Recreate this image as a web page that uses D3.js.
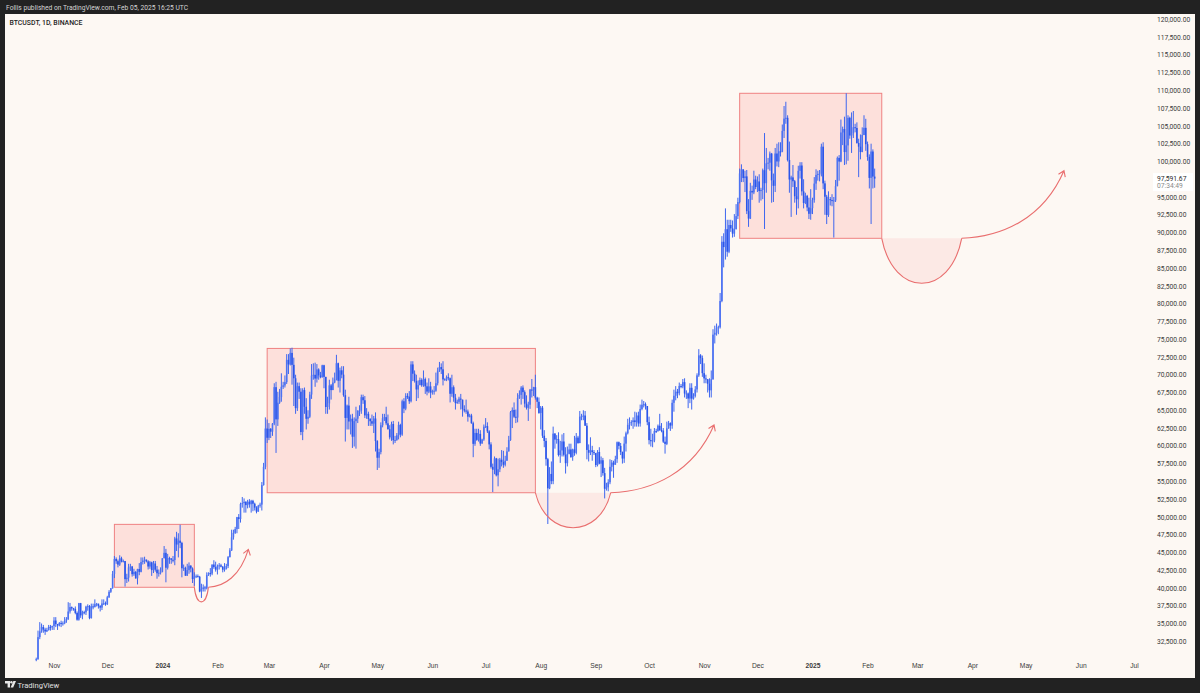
<!DOCTYPE html>
<html>
<head>
<meta charset="utf-8">
<script src="https://cdn.jsdelivr.net/npm/d3@7"></script>
<style>
  html, body { margin: 0; padding: 0; background: #222; }
  svg { display: block; font-family: Roboto, "Liberation Sans", sans-serif; }
</style>
</head>
<body>
<script>
// ---- data (BTCUSDT daily, values in thousands of USD) ----
var startDay = "2023-10-22";
var firstOpen = 29.91;

var closes = [
  // Oct 2023 (22-31)
  29.99,33.09,33.90,34.50,34.15,33.89,34.09,34.53,34.48,34.65,
  // Nov 2023
  35.42,34.94,34.72,35.08,35.04,35.04,35.42,35.62,36.69,37.31,37.13,37.06,36.49,35.54,37.87,36.15,36.59,36.58,37.37,37.45,35.76,37.41,37.29,37.72,37.79,37.45,37.24,37.82,37.85,37.71,
  // Dec 2023
  38.69,39.46,39.97,41.98,44.08,43.77,43.29,44.17,43.72,43.79,41.24,41.45,42.89,43.02,41.94,42.26,41.36,42.66,42.27,43.65,43.86,43.99,43.74,43.02,43.61,42.52,43.44,42.58,42.07,42.14,42.28,
  // Jan 2024
  44.18,44.94,42.85,44.18,44.16,43.97,43.93,46.97,46.12,46.66,46.34,42.78,42.84,41.73,42.51,43.14,42.74,41.26,41.62,41.66,41.58,39.51,39.85,40.08,39.94,41.82,42.12,42.03,43.30,42.94,42.58,
  // Feb 2024
  43.08,43.19,42.99,42.58,42.66,43.08,44.34,45.29,47.13,47.75,48.29,49.96,49.70,51.81,51.94,52.12,51.66,52.14,51.78,52.26,51.85,51.30,50.74,51.57,51.73,54.48,57.04,62.43,61.13,
  // Mar 2024
  62.39,61.99,63.12,68.25,63.72,66.07,66.85,68.30,68.50,68.96,72.09,71.45,73.07,71.39,69.50,65.30,68.39,67.61,61.94,67.84,65.50,63.80,64.09,67.21,69.88,69.99,69.46,70.74,69.90,69.64,71.33,
  // Apr 2024
  69.70,65.46,65.96,68.50,67.84,68.90,69.36,71.62,69.15,70.62,70.01,67.12,63.92,65.66,63.42,63.81,61.28,63.47,63.82,64.94,64.94,66.84,66.41,64.28,64.50,63.77,63.46,63.12,63.84,60.67,
  // May 2024
  58.32,59.12,62.89,63.89,64.03,63.16,62.33,61.19,63.07,60.79,60.82,61.48,62.94,61.58,66.27,65.23,67.02,66.92,66.27,71.45,70.14,69.12,67.93,68.53,69.26,68.51,69.39,68.37,67.63,68.36,67.49,
  // Jun 2024
  67.71,67.75,68.80,70.57,71.08,70.76,69.34,69.31,69.65,69.51,67.32,68.24,66.76,66.01,66.19,66.64,66.49,65.17,64.96,64.83,64.10,64.26,63.18,60.28,61.81,60.84,61.68,60.32,60.89,62.68,
  // Jul 2024
  62.77,62.03,60.20,57.04,56.64,58.23,55.85,56.70,58.05,57.72,57.34,57.90,59.21,60.80,64.72,65.04,64.09,63.97,66.71,67.16,68.19,67.55,65.93,65.35,65.78,67.91,67.90,68.25,66.78,66.19,64.62,
  // Aug 2024
  65.36,61.42,60.68,58.12,54.02,56.04,55.03,61.71,60.88,60.95,58.71,59.35,60.61,58.74,57.56,58.87,59.49,58.43,59.49,59.01,61.16,60.38,64.10,64.18,64.26,62.83,59.42,59.03,59.37,59.12,58.97,
  // Sep 2024
  57.30,59.13,57.49,57.97,56.16,53.96,54.16,54.87,57.05,57.64,57.34,58.13,60.50,59.99,59.13,58.21,60.31,61.76,62.95,63.20,63.35,63.58,63.34,64.26,63.14,65.18,65.78,65.86,65.60,63.33,
  // Oct 2024
  60.80,60.65,60.75,62.07,62.06,62.82,62.22,62.13,60.58,60.27,62.45,63.19,62.85,66.05,67.04,67.61,67.40,68.42,68.36,68.96,67.36,67.37,66.65,68.16,66.64,67.01,67.93,69.91,72.72,72.34,70.22,
  // Nov 2024
  69.48,69.36,68.73,67.81,69.36,75.64,75.90,76.55,76.68,80.37,88.70,87.96,90.47,87.30,91.06,90.58,89.85,90.46,92.31,94.29,98.32,98.89,97.67,97.90,93.01,91.97,95.86,95.64,97.46,96.41,
  // Dec 2024
  97.19,95.84,96.00,98.77,96.95,99.74,99.83,101.11,97.34,96.58,101.12,100.00,101.42,101.37,104.30,106.03,106.14,100.20,97.46,97.76,97.22,95.10,94.69,98.68,99.43,95.79,94.16,95.16,93.53,92.64,93.43,
  // Jan 2025
  94.59,96.89,98.11,98.24,98.31,102.08,96.92,95.04,92.48,94.70,94.57,94.49,94.52,96.53,100.50,99.99,104.08,104.56,101.33,102.26,106.14,103.65,103.96,104.82,104.71,102.60,102.08,101.33,103.73,104.73,102.43,
  // Feb 2025 (1-5)
  100.64,97.69,101.40,97.87,97.59
];

var highs = [
  30.2,34.0,35.2,35.0,34.8,34.4,34.4,34.8,34.8,34.7,
  35.9,35.9,34.9,35.2,35.4,35.3,35.9,35.9,38.0,37.9,37.4,37.2,37.4,36.7,37.9,37.9,36.8,36.8,37.5,37.7,37.6,37.8,37.8,38.4,37.9,37.8,37.6,38.4,38.4,38.1,
  38.9,39.7,40.0,42.4,44.5,44.3,44.0,44.6,44.4,44.0,43.8,42.0,43.4,43.4,43.1,42.7,42.4,42.7,43.5,44.3,44.3,44.4,44.0,43.9,43.8,43.7,43.8,43.8,43.1,42.6,42.9,
  44.2,45.9,45.5,44.8,44.4,44.2,44.5,47.2,47.9,47.7,48.9,46.5,43.3,43.0,43.4,43.6,43.2,42.9,42.2,41.9,41.9,41.7,40.6,40.5,40.3,42.2,42.2,42.8,43.3,43.9,43.7,
  43.3,43.5,43.4,43.1,43.5,43.4,44.5,45.6,48.2,48.2,48.6,50.0,50.4,52.0,52.8,52.6,52.2,52.4,52.5,52.4,52.4,52.0,51.5,51.7,52.0,54.9,57.6,64.0,63.7,
  63.2,62.5,63.2,68.8,69.0,67.6,68.0,70.2,69.0,69.9,72.9,72.9,73.7,73.8,72.4,70.0,68.9,68.9,68.1,68.1,68.2,66.7,65.0,67.6,71.5,71.6,71.7,71.5,70.9,70.4,71.4,
  71.4,69.7,66.9,69.3,68.7,69.6,70.3,72.8,71.7,71.0,71.2,71.2,67.9,65.8,66.9,64.4,64.5,64.0,65.5,65.0,65.7,67.2,67.2,67.0,65.3,64.8,63.9,64.4,64.2,64.7,
  60.8,59.6,63.3,64.5,64.5,65.5,64.4,62.9,63.4,63.5,61.4,61.8,63.4,63.1,66.5,66.7,67.4,67.4,67.7,71.9,71.9,70.6,70.0,69.2,69.6,69.5,70.6,69.6,68.9,69.5,69.0,
  67.9,68.4,70.3,71.0,71.8,71.6,71.9,69.5,69.9,70.2,69.6,70.0,68.5,67.3,66.5,66.9,67.3,66.5,65.7,66.5,65.1,64.5,64.5,63.4,62.4,62.4,62.4,62.2,61.0,63.0,
  63.9,63.3,62.2,60.5,57.5,58.5,58.3,58.2,58.3,59.4,59.3,58.6,59.8,61.4,64.9,65.4,66.1,65.1,67.4,67.8,68.4,68.5,67.8,67.1,66.2,68.0,69.4,68.3,70.0,66.9,66.8,
  65.6,65.6,62.2,61.1,58.3,57.0,57.8,62.7,61.8,61.5,61.9,60.7,61.6,61.8,59.8,59.9,60.3,60.3,59.6,61.4,61.8,61.4,64.9,64.5,65.0,64.9,63.2,60.2,61.2,60.0,59.4,
  59.0,59.4,59.8,58.5,58.3,56.9,54.8,55.3,58.1,58.0,57.9,58.6,60.6,60.6,60.4,59.2,61.3,62.0,63.8,64.0,63.6,64.0,64.8,64.7,64.8,65.8,66.5,66.3,66.1,65.5,
  64.1,62.4,61.7,62.5,62.4,63.0,64.5,63.2,62.5,61.3,63.4,63.5,63.3,66.5,67.9,68.4,68.0,68.9,68.7,69.4,69.5,67.8,67.5,68.8,68.8,67.4,68.4,70.2,73.6,72.9,72.7,
  71.6,70.0,69.4,69.5,70.6,76.4,76.9,77.2,76.9,81.5,89.5,89.9,93.4,91.8,91.8,91.8,91.7,92.6,94.0,94.9,99.0,99.6,98.8,98.7,98.8,94.7,97.0,96.6,98.7,98.0,
  97.9,98.2,96.3,99.0,104.0,101.9,100.5,101.4,101.2,98.3,101.9,102.5,102.7,102.7,105.2,107.8,108.4,106.5,102.8,98.0,99.5,97.4,96.4,99.4,99.9,99.9,97.5,95.6,95.3,94.9,96.1,
  94.9,97.8,98.9,98.7,98.8,102.5,102.7,97.3,95.3,95.8,95.0,95.4,95.0,97.4,100.7,100.9,105.9,104.9,106.3,109.6,106.5,106.3,106.9,107.1,105.3,105.5,103.2,103.8,104.8,106.5,106.0,
  102.8,101.0,102.5,101.7,99.0
];

var lows = [
  29.7,29.9,32.8,33.7,33.7,33.4,33.8,34.0,34.0,34.1,
  34.1,34.5,34.1,34.6,34.5,34.7,34.9,35.1,35.5,36.4,36.8,36.8,36.3,35.4,35.4,35.8,35.6,36.3,36.2,36.8,35.6,35.7,37.0,37.6,37.4,37.1,36.7,36.9,37.6,37.5,
  37.6,38.6,39.3,39.9,41.4,43.4,42.9,43.1,43.6,43.6,40.2,40.7,40.9,42.4,41.6,41.7,41.3,40.5,41.8,42.2,43.3,43.4,43.6,42.6,42.7,41.7,42.1,42.3,41.3,41.6,41.9,
  42.2,44.2,40.8,42.6,43.4,43.4,43.6,43.2,45.2,44.3,45.6,41.5,42.4,41.7,41.7,42.0,42.2,40.7,40.3,41.4,41.5,39.4,38.6,39.5,39.5,39.8,41.7,41.6,41.8,42.7,42.3,
  41.9,42.6,42.9,42.2,42.3,42.6,42.8,44.3,45.2,46.8,47.6,47.7,48.3,49.2,51.3,50.6,50.6,51.2,51.3,50.6,50.8,50.9,50.5,50.9,51.3,50.9,54.4,56.7,60.4,
  60.8,61.1,61.4,62.9,59.0,62.8,65.9,66.2,68.0,68.2,68.7,70.1,71.3,68.6,65.6,64.5,64.9,66.6,61.5,60.8,64.5,62.3,63.1,63.9,66.6,69.3,68.3,68.9,69.3,69.5,69.6,
  68.1,64.5,64.5,65.1,66.5,68.5,68.8,69.2,68.2,67.5,69.5,66.9,60.6,62.3,62.3,61.6,59.7,59.9,59.6,63.2,64.2,64.5,65.9,63.9,63.8,62.8,62.8,62.8,61.8,59.2,
  56.6,56.9,58.8,62.6,63.5,62.9,62.3,60.9,60.7,60.2,60.4,60.7,60.9,61.2,61.4,64.6,65.0,66.6,65.9,66.1,69.1,68.9,66.3,66.7,68.8,68.3,68.3,67.3,67.1,67.4,66.7,
  67.2,67.2,67.6,68.5,70.4,70.1,68.5,69.2,69.1,69.2,66.1,66.9,66.2,65.1,65.9,65.9,65.1,64.1,64.7,64.5,63.4,64.0,63.1,58.4,60.0,60.7,60.6,60.0,60.3,60.7,
  62.5,61.8,59.5,56.8,53.5,56.0,55.7,54.3,56.3,57.1,56.9,57.1,57.9,59.2,60.7,62.5,63.9,63.2,63.3,66.6,65.8,66.6,65.4,65.1,63.5,65.2,66.8,67.0,66.5,65.3,64.5,
  62.3,61.1,59.8,57.2,49.0,53.9,54.6,54.6,59.6,60.3,58.5,57.6,58.5,58.5,56.1,57.1,58.8,58.3,57.9,58.6,58.8,60.3,60.4,63.6,63.6,62.8,58.1,57.8,58.7,57.9,58.7,
  57.0,57.1,57.4,55.6,55.8,52.6,53.7,53.6,54.6,56.4,55.5,57.5,57.6,59.5,58.7,57.5,57.6,59.2,61.6,62.3,62.8,62.4,62.7,62.7,62.7,62.7,65.0,65.4,65.1,62.9,
  60.2,59.9,59.8,60.5,61.8,62.0,62.1,61.9,60.4,58.9,60.1,62.4,62.1,62.4,64.8,66.4,66.7,67.1,68.1,68.1,66.8,66.6,65.3,66.0,65.1,66.5,66.8,67.5,69.7,71.5,69.7,
  68.8,68.8,67.5,66.8,66.8,69.3,74.4,75.5,75.7,76.5,80.2,85.1,86.2,86.6,87.1,90.1,89.3,89.4,90.5,91.9,94.1,97.1,97.1,95.7,92.6,90.8,91.9,94.6,95.4,96.1,
  95.7,94.2,94.5,94.7,90.5,95.6,98.9,98.7,94.2,94.3,95.7,99.3,99.2,100.7,101.3,103.3,105.3,100.0,95.6,92.2,96.4,94.2,92.5,93.4,97.6,95.2,93.4,94.0,93.0,91.9,91.8,
  92.6,94.2,96.0,97.3,97.2,97.9,96.1,92.5,91.2,92.2,93.8,93.7,89.3,94.3,96.5,97.3,99.9,102.3,99.5,99.6,100.1,103.2,101.2,103.3,104.1,102.5,97.8,100.3,101.3,103.7,101.5,
  100.1,96.2,91.2,96.2,96.3
];

// axis ticks
var priceTicks = d3.range(32500, 120001, 2500);
var monthTicks = ["2023-11-01","2023-12-01","2024-01-01","2024-02-01","2024-03-01","2024-04-01",
  "2024-05-01","2024-06-01","2024-07-01","2024-08-01","2024-09-01","2024-10-01","2024-11-01",
  "2024-12-01","2025-01-01","2025-02-01","2025-03-01","2025-04-01","2025-05-01","2025-06-01","2025-07-01"];

// drawn rectangles [start, end, top, bottom]
var ranges = [
  ["2023-12-05", "2024-01-19", 48950, 40100],
  ["2024-02-29", "2024-07-29", 73700, 53400],
  ["2024-11-21", "2025-02-09", 109590, 89190]
];
// cup shapes [start, end, bottom price, level price, filled]
var cups = [
  ["2024-01-19", "2024-01-26T22:00", 38050, 40100, false],
  ["2024-07-29", "2024-09-09T10:00", 48480, 53400, true],
  ["2025-02-09", "2025-03-26", 82860, 89190, true]
];
// arrows [start, level, tip date, tip price]
var arrows = [
  ["2024-01-26T22:00", 40100, "2024-02-18T10:00", 45440],
  ["2024-09-09T10:00", 53400, "2024-11-06T14:00", 62930],
  ["2025-03-26", 89190, "2025-05-22T14:00", 98700]
];

var lastPrice = 97591.67, countdown = "07:34:49";

// ---- chart ----
var W = 1200, H = 693;
var parse = function(s) { return new Date(s.length > 10 ? s + "Z" : s + "T00:00Z"); };

var x = d3.scaleUtc()
    .domain([parse("2023-11-01"), parse("2025-07-01")])
    .range([54, 1134]);
var y = d3.scaleLinear()
    .domain([32500, 120000])
    .range([641.3, 19.3]);

var svg = d3.select("body").append("svg")
    .attr("width", W)
    .attr("height", H);

// frame
svg.append("rect").attr("width", W).attr("height", H).attr("fill", "#222222");
svg.append("rect").attr("x", 5).attr("y", 14).attr("width", 1190).attr("height", 664)
    .attr("fill", "#fdf8f3");

svg.append("text")
    .attr("x", 6).attr("y", 9.6)
    .attr("fill", "#d4d4d4")
    .style("font-size", "6.7px")
    .text("Follis published on TradingView.com, Feb 05, 2025 16:25 UTC");

svg.append("text")
    .attr("x", 9.5).attr("y", 24.5)
    .attr("fill", "#1e1e1e")
    .style("font-size", "6.9px")
    .style("font-weight", 500)
    .text("BTCUSDT, 1D, BINANCE");

// range boxes
svg.selectAll(".range")
    .data(ranges)
  .enter().append("rect")
    .attr("class", "range")
    .attr("x", function(d) { return x(parse(d[0])); })
    .attr("y", function(d) { return y(d[2]); })
    .attr("width", function(d) { return x(parse(d[1])) - x(parse(d[0])); })
    .attr("height", function(d) { return y(d[3]) - y(d[2]); })
    .attr("fill", "#fde0db")
    .attr("stroke", "#ef8282")
    .attr("stroke-width", 1);

// cups
function cupPath(d) {
  var x0 = x(parse(d[0])), x1 = x(parse(d[1])), y0 = y(d[3]), yb = y(d[2]);
  var w = x1 - x0, cy = (yb - 0.25 * y0) / 0.75;
  var p = d3.path();
  p.moveTo(x0, y0);
  p.bezierCurveTo(x0 + 0.147 * w, cy, x1 - 0.147 * w, cy, x1, y0);
  return p.toString();
}
svg.selectAll(".cupfill")
    .data(cups.filter(function(d) { return d[4]; }))
  .enter().append("path")
    .attr("d", function(d) { return cupPath(d) + "Z"; })
    .attr("fill", "#fce9e5");

// candles
var day0 = parse(startDay);
var candles = closes.map(function(c, i) {
  var o = i === 0 ? firstOpen : closes[i - 1];
  return {
    date: d3.utcDay.offset(day0, i),
    open: o * 1000,
    close: c * 1000,
    high: Math.max(highs[i], o, c) * 1000,
    low: Math.min(lows[i], o, c) * 1000
  };
});

var g = svg.append("g");
g.selectAll(".wick")
    .data(candles)
  .enter().append("line")
    .attr("x1", function(d) { return x(d.date); })
    .attr("x2", function(d) { return x(d.date); })
    .attr("y1", function(d) { return y(d.high); })
    .attr("y2", function(d) { return y(d.low); })
    .attr("stroke", "#3e66ef")
    .attr("stroke-width", 1);

g.selectAll(".body")
    .data(candles)
  .enter().append("rect")
    .attr("x", function(d) { return x(d.date) - 0.8; })
    .attr("width", 1.6)
    .attr("y", function(d) { return y(Math.max(d.open, d.close)); })
    .attr("height", function(d) { return Math.max(1, Math.abs(y(d.open) - y(d.close))); })
    .attr("fill", function(d) { return d.close >= d.open ? "#4c72f2" : "#2a55ea"; });

// cup strokes
svg.selectAll(".cup")
    .data(cups)
  .enter().append("path")
    .attr("d", cupPath)
    .attr("fill", "none")
    .attr("stroke", "#e96e6e")
    .attr("stroke-width", 1.1);

// arrows
svg.selectAll(".arrow")
    .data(arrows)
  .enter().append("path")
    .attr("d", function(d) {
      var x0 = x(parse(d[0])), y0 = y(d[1]), x1 = x(parse(d[2])), y1 = y(d[3]);
      var w = x1 - x0, h = y0 - y1;
      var c2x = x0 + 0.8 * w, c2y = y0 - 0.3 * h;
      var p = d3.path();
      p.moveTo(x0, y0);
      p.bezierCurveTo(x0 + 0.4 * w, y0 - 0.02 * h, c2x, c2y, x1, y1);
      // open arrow head
      var a = Math.atan2(y1 - c2y, x1 - c2x), L = 6.5, s = 0.6;
      p.moveTo(x1 - L * Math.cos(a - s), y1 - L * Math.sin(a - s));
      p.lineTo(x1, y1);
      p.lineTo(x1 - L * Math.cos(a + s), y1 - L * Math.sin(a + s));
      return p.toString();
    })
    .attr("fill", "none")
    .attr("stroke", "#e96e6e")
    .attr("stroke-width", 1.1);

// price axis
var yAxis = svg.append("g")
    .attr("transform", "translate(1154,0)")
    .call(d3.axisRight(y).tickValues(priceTicks).tickSize(0).tickPadding(3)
      .tickFormat(d3.format(",.2f")));
yAxis.select(".domain").remove();
yAxis.selectAll("text")
    .attr("fill", "#3a3a3a")
    .style("font-size", "6.7px")
    .style("font-family", "Roboto, sans-serif");

// last price label
svg.append("rect")
    .attr("x", 1153).attr("y", y(lastPrice) - 5.5)
    .attr("width", 40).attr("height", 18)
    .attr("fill", "#ffffff");
svg.append("text")
    .attr("x", 1157).attr("y", y(lastPrice) + 2.3)
    .attr("fill", "#2a2a2a")
    .style("font-size", "6.7px")
    .text(d3.format(",.2f")(lastPrice));
svg.append("text")
    .attr("x", 1157).attr("y", y(lastPrice) + 9.3)
    .attr("fill", "#8a8a8a")
    .style("font-size", "6.7px")
    .text(countdown);

// time axis
var xAxis = svg.append("g")
    .attr("transform", "translate(0,663.5)")
    .call(d3.axisBottom(x).tickValues(monthTicks.map(parse)).tickSize(0).tickPadding(0)
      .tickFormat(function(d) {
        return d.getUTCMonth() === 0 ? d3.utcFormat("%Y")(d) : d3.utcFormat("%b")(d);
      }));
xAxis.select(".domain").remove();
xAxis.selectAll("text")
    .attr("fill", "#3a3a3a")
    .style("font-size", "6.7px")
    .style("font-weight", function(d) { return d.getUTCMonth() === 0 ? 700 : 400; });

// footer logo
var logo = svg.append("g").attr("transform", "translate(5,681)");
logo.append("path").attr("d", "M0,0 H5 V6.5 H2.6 V2.4 H0 Z").attr("fill", "#e6e6e6");
logo.append("circle").attr("cx", 6.4).attr("cy", 1.2).attr("r", 1.2).attr("fill", "#e6e6e6");
logo.append("path").attr("d", "M8.4,0 H11 L8.2,6.5 H5.6 Z").attr("fill", "#e6e6e6");
svg.append("text")
    .attr("x", 17.5).attr("y", 688)
    .attr("fill", "#e0e0e0")
    .style("font-size", "7.6px")
    .text("TradingView");
</script>
</body>
</html>
